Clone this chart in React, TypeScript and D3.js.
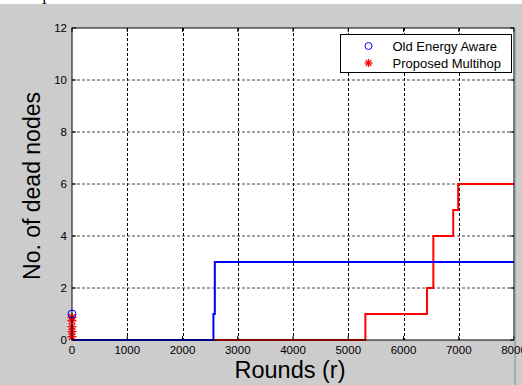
import React from "react";
import * as d3 from "d3";

const W = 522;
const H = 385;

const xTicks = [0, 1000, 2000, 3000, 4000, 5000, 6000, 7000, 8000];
const yTicks = [0, 2, 4, 6, 8, 10, 12];

// Old Energy Aware (blue step line)
const oldRounds = [0, 2560, 2585, 8000];
const oldDead = [0, 1, 3, 3];

// Proposed Multihop (red step line)
const newRounds = [0, 5310, 6425, 6540, 6900, 6990, 8000];
const newDead = [0, 1, 2, 4, 5, 6, 6];

// markers at round 0
const oldMarkerY = [1];
const newMarkerY = [0.13, 0.32, 0.51, 0.74, 0.87];

const seriesNames = ["Old Energy Aware", "Proposed Multihop"];

export default function App() {
  const x = d3.scaleLinear().domain([0, 8000]).range([72, 514]);
  const y = d3.scaleLinear().domain([0, 12]).range([340, 28]);

  const line = d3
    .line<[number, number]>()
    .x((d) => x(d[0]))
    .y((d) => y(d[1]))
    .curve(d3.curveStepAfter);

  const oldPts: [number, number][] = oldRounds.map((r, i) => [r, oldDead[i]]);
  const newPts: [number, number][] = newRounds.map((r, i) => [r, newDead[i]]);

  const star = (cx: number, cy: number, s: number, color: string, key: string) => (
    <g key={key} stroke={color} strokeWidth={1.3}>
      <line x1={cx - s} y1={cy} x2={cx + s} y2={cy} />
      <line x1={cx} y1={cy - s} x2={cx} y2={cy + s} />
      <line x1={cx - s * 0.7} y1={cy - s * 0.7} x2={cx + s * 0.7} y2={cy + s * 0.7} />
      <line x1={cx - s * 0.7} y1={cy + s * 0.7} x2={cx + s * 0.7} y2={cy - s * 0.7} />
    </g>
  );

  const [x0, x1] = x.range();
  const [y0, y1] = y.range();

  return (
    <svg
      width={W}
      height={H}
      style={{ position: "absolute", left: 0, top: 0, fontFamily: "Liberation Sans, Arial, sans-serif" }}
    >
      <rect x={0} y={0} width={W} height={H} fill="#cccccc" />
      <rect x={0} y={0} width={W} height={4} fill="#ffffff" />
      <text x={40} y={4} fontFamily="Liberation Serif, serif" fontSize={14} fill="#000">T</text>

      {/* plot area */}
      <rect x={x0} y={y1} width={x1 - x0} height={y0 - y1} fill="#ffffff" />

      {/* grid */}
      {xTicks.slice(1, -1).map((t) => (
        <line
          key={"gx" + t}
          x1={Math.round(x(t)) + 0.5}
          x2={Math.round(x(t)) + 0.5}
          y1={y1}
          y2={y0}
          stroke="#000"
          strokeWidth={1}
          strokeDasharray="3,2"
        />
      ))}
      {yTicks.slice(1, -1).map((t) => (
        <line
          key={"gy" + t}
          x1={x0}
          x2={x1}
          y1={y(t)}
          y2={y(t)}
          stroke="#444"
          strokeWidth={1}
          strokeDasharray="3,2"
        />
      ))}

      {/* tick marks (inward, on all sides) */}
      {xTicks.map((t) => (
        <g key={"tx" + t} stroke="#000">
          <line x1={x(t)} x2={x(t)} y1={y0} y2={y0 - 4} />
          <line x1={x(t)} x2={x(t)} y1={y1} y2={y1 + 4} />
        </g>
      ))}
      {yTicks.map((t) => (
        <g key={"ty" + t} stroke="#000">
          <line x1={x0} x2={x0 + 4} y1={y(t)} y2={y(t)} />
          <line x1={x1} x2={x1 - 4} y1={y(t)} y2={y(t)} />
        </g>
      ))}

      {/* series */}
      <path d={line(newPts) || ""} fill="none" stroke="#ff0000" strokeWidth={2} />
      <path d={line(oldPts) || ""} fill="none" stroke="#0000ff" strokeWidth={2} />

      {newMarkerY.map((v, i) => star(x(0), y(v), 4.5, "#ff0000", "nm" + i))}
      {oldMarkerY.map((v, i) => (
        <circle key={"om" + i} cx={x(0)} cy={y(v)} r={4} fill="none" stroke="#0000ff" strokeWidth={1} />
      ))}

      {/* axes box */}
      <rect x={x0} y={y1} width={x1 - x0} height={y0 - y1} fill="none" stroke="#000" strokeWidth={1} />
      <line x1={x1 + 1} x2={x1 + 1} y1={y1} y2={H} stroke="#888" strokeWidth={1} />

      {/* tick labels */}
      {xTicks.map((t) => (
        <text key={"lx" + t} x={x(t)} y={354} fontSize={11.5} textAnchor="middle" fill="#000">
          {t}
        </text>
      ))}
      {yTicks.map((t) => (
        <text key={"ly" + t} x={67} y={y(t) + 4} fontSize={11.5} textAnchor="end" fill="#000">
          {t}
        </text>
      ))}

      {/* axis labels */}
      <text x={290} y={378} fontSize={23.5} textAnchor="middle" fill="#000">
        Rounds (r)
      </text>
      <text
        transform={`translate(40,${186}) rotate(-90)`}
        fontSize={23}
        textAnchor="middle"
        fill="#000"
      >
        No. of dead nodes
      </text>

      {/* legend */}
      <rect x={340.5} y={34.5} width={171} height={38} fill="#ffffff" stroke="#000" strokeWidth={1} />
      <circle cx={368.5} cy={46} r={3.5} fill="none" stroke="#0000ff" strokeWidth={1} />
      {star(368.5, 63, 4, "#ff0000", "legstar")}
      <text x={392.5} y={50.5} fontSize={13} fill="#000">
        {seriesNames[0]}
      </text>
      <text x={392.5} y={67.5} fontSize={13} fill="#000">
        {seriesNames[1]}
      </text>
    </svg>
  );
}
